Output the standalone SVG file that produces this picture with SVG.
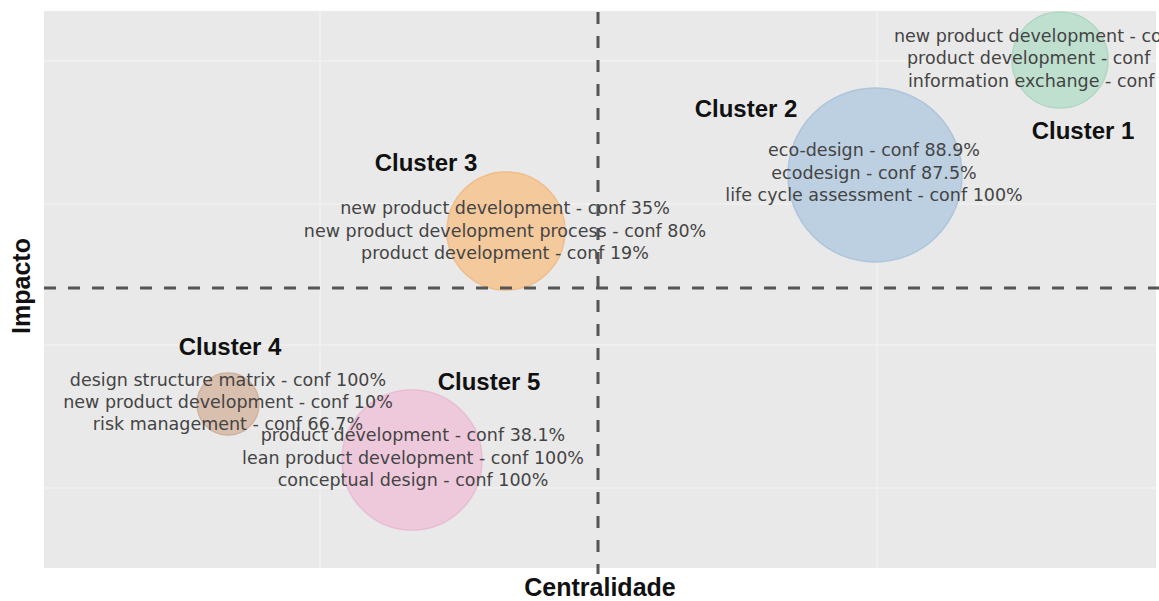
<svg xmlns="http://www.w3.org/2000/svg" width="1159" height="601" viewBox="0 0 1159 601">
<style>
.bg{fill:#e9e9e9}
.grid{stroke:#f0f0f0;stroke-width:1.5}
.dash{stroke:#555;stroke-width:3;stroke-dasharray:12 12;fill:none}
.lbl{font-family:"DejaVu Sans",Verdana,sans-serif;font-size:17.5px;fill:#444;text-anchor:middle}
.lbls{font-family:"DejaVu Sans",Verdana,sans-serif;font-size:17.5px;fill:#444;text-anchor:start}
.ttl{font-family:"Liberation Sans",Arial,sans-serif;font-size:24px;font-weight:bold;fill:#111;text-anchor:middle}
.ax{font-family:"Liberation Sans",Arial,sans-serif;font-size:25px;font-weight:bold;fill:#111;text-anchor:middle}
</style>
<rect width="1159" height="601" fill="#ffffff"/>
<g id="plot">
<rect class="bg" x="44" y="11" width="1112" height="557"/>
<line class="grid" x1="44" y1="61" x2="1156" y2="61"/>
<line class="grid" x1="44" y1="204" x2="1156" y2="204"/>
<line class="grid" x1="44" y1="345" x2="1156" y2="345"/>
<line class="grid" x1="44" y1="488" x2="1156" y2="488"/>
<line class="grid" x1="320" y1="11" x2="320" y2="568"/>
<line class="grid" x1="877" y1="11" x2="877" y2="568"/>
</g>
<g id="cluster1">
<circle cx="1060" cy="60" r="48" fill="#bfe0cf" stroke="#b0d6c3" stroke-width="1.5"/>
</g>
<g id="cluster2">
<circle cx="875" cy="175" r="87" fill="#bcd0e2" stroke="#adc4da" stroke-width="1.5"/>
</g>
<g id="cluster3">
<circle cx="506" cy="231" r="59" fill="#f4c99c" stroke="#efbd8a" stroke-width="1.5"/>
</g>
<g id="cluster4">
<circle cx="228" cy="404" r="31" fill="#d9bfae" stroke="#d0b29e" stroke-width="1.5"/>
</g>
<g id="cluster5">
<circle cx="412" cy="460" r="70" fill="#eec9dc" stroke="#e8bcd2" stroke-width="1.5"/>
</g>
<g id="connectors">
<line class="dash" x1="44" y1="288" x2="1159" y2="288"/>
<line class="dash" x1="598" y1="12" x2="598" y2="574"/>
</g>
<g id="labels">
<text class="lbls" x="894" y="42">new product development - co</text>
<text class="lbls" x="907" y="64">product development - conf</text>
<text class="lbls" x="908" y="87">information exchange - conf</text>
<text class="ttl" x="1083" y="139">Cluster 1</text>

<text class="ttl" x="746" y="117">Cluster 2</text>
<text class="lbl" x="874" y="156">eco-design - conf 88.9%</text>
<text class="lbl" x="874" y="179">ecodesign - conf 87.5%</text>
<text class="lbl" x="874" y="201">life cycle assessment - conf 100%</text>

<text class="ttl" x="426" y="171">Cluster 3</text>
<text class="lbl" x="505" y="214">new product development - conf 35%</text>
<text class="lbl" x="505" y="237">new product development process - conf 80%</text>
<text class="lbl" x="505" y="259">product development - conf 19%</text>

<text class="ttl" x="230" y="355">Cluster 4</text>
<text class="lbl" x="228" y="386">design structure matrix - conf 100%</text>
<text class="lbl" x="228" y="408">new product development - conf 10%</text>
<text class="lbl" x="228" y="430">risk management - conf 66.7%</text>

<text class="ttl" x="489" y="390">Cluster 5</text>
<text class="lbl" x="413" y="441">product development - conf 38.1%</text>
<text class="lbl" x="413" y="464">lean product development - conf 100%</text>
<text class="lbl" x="413" y="486">conceptual design - conf 100%</text>
</g>
<g id="axes">
<text class="ax" x="600" y="596">Centralidade</text>
<text class="ax" transform="translate(30,286) rotate(-90)" x="0" y="0">Impacto</text>
</g>
</svg>
